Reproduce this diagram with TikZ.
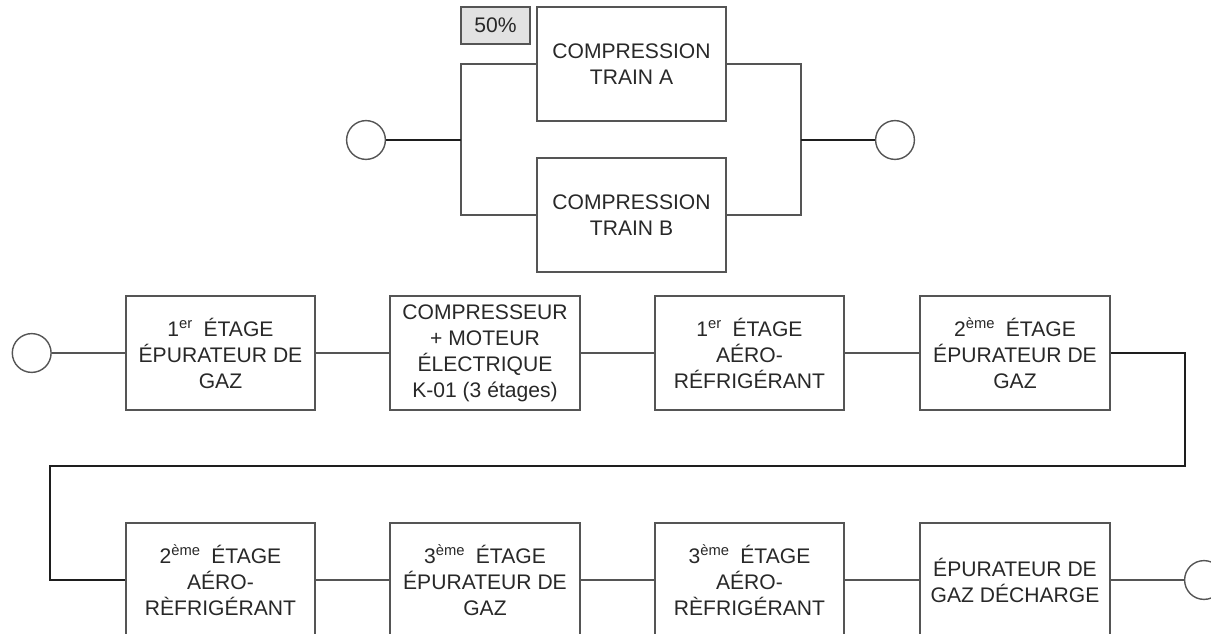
\documentclass[tikz,border=0pt]{standalone}
\usepackage{fontspec}
\setmainfont{Liberation Sans}
\usepackage{tikz}
\usetikzlibrary{positioning}
\usepackage{xcolor}
\definecolor{ctrait}{RGB}{85,85,85}
\definecolor{cboucle}{RGB}{30,30,30}
\definecolor{cfond}{RGB}{226,226,226}
\definecolor{ctexte}{RGB}{40,40,40}
\newcommand{\exposant}[1]{\textsuperscript{#1}\enspace}
\tikzset{
  bloc/.style={draw=ctrait, line width=1.3pt, minimum width=4.74cm, minimum height=2.85cm,
    inner sep=0pt, align=center, text=ctexte, font=\fontsize{15}{18.5}\selectfont},
  taux/.style={draw=ctrait, fill=cfond, line width=1.2pt, minimum width=1.72cm, minimum height=0.93cm,
    inner sep=0pt, text=ctexte, font=\fontsize{15}{18}\selectfont},
  borne/.style={circle, draw=ctrait, line width=1pt, minimum size=0.97cm, inner sep=0pt},
  lien/.style={draw=ctrait, line width=1.2pt},
}

\begin{document}
\begin{tikzpicture}[x=0.25cm, y=-0.25cm]
\useasboundingbox (0,0) rectangle (121.1,63.4);
% trains en parallele
\node[bloc, minimum width=4.72cm] (trainA) at (63.15,6.4) {COMPRESSION\\TRAIN A};
\node[bloc, minimum width=4.72cm] (trainB) at (63.15,21.5) {COMPRESSION\\TRAIN B};
\node[taux] (taux) at (49.55,2.55) {50\%};
\node[borne] (entreeT) at (36.6,14) {};
\node[borne] (sortieT) at (89.5,14) {};
\coordinate (nL) at (46.1,14); \coordinate (nR) at (80.1,14);
\draw[lien] (trainA.west) -| (nL) |- (trainB.west);
\draw[lien] (trainA.east) -| (nR) |- (trainB.east);
\draw[lien, draw=cboucle, line width=1pt] (entreeT) -- (nL);
\draw[lien, draw=cboucle, line width=1pt] (nR) -- (sortieT);
% chaine du train
\foreach \nom/\x/\y/\txt in {
  e1/22.05/35.3/{1\exposant{er}ÉTAGE\\ÉPURATEUR DE\\GAZ},
  e2/48.5/35.3/{COMPRESSEUR\\+ MOTEUR\\ÉLECTRIQUE\\K-01 (3 étages)},
  e3/74.95/35.3/{1\exposant{er}ÉTAGE\\AÉRO-\\RÉFRIGÉRANT},
  e4/101.5/35.3/{2\exposant{ème}ÉTAGE\\ÉPURATEUR DE\\GAZ},
  e5/22.05/58/{2\exposant{ème}ÉTAGE\\AÉRO-\\RÈFRIGÉRANT},
  e6/48.5/58/{3\exposant{ème}ÉTAGE\\ÉPURATEUR DE\\GAZ},
  e7/74.95/58/{3\exposant{ème}ÉTAGE\\AÉRO-\\RÈFRIGÉRANT},
  e8/101.5/58/{ÉPURATEUR DE\\GAZ DÉCHARGE}}
  {\node[bloc] (\nom) at (\x,\y) {\txt};}
\node[borne] (entree) at (3.17,35.3) {};
\node[borne] (sortie) at (120.4,58) {};
\coordinate (bR) at (118.5,46.6); \coordinate (bL) at (5,46.6);
\draw[lien] (entree) -- (e1) -- (e2) -- (e3) -- (e4);
\draw[lien, draw=cboucle, line width=1pt] (e4.east) -| (bR) -- (bL) |- (e5.west);
\draw[lien] (e5) -- (e6) -- (e7) -- (e8) -- (sortie);
\end{tikzpicture}
\end{document}
